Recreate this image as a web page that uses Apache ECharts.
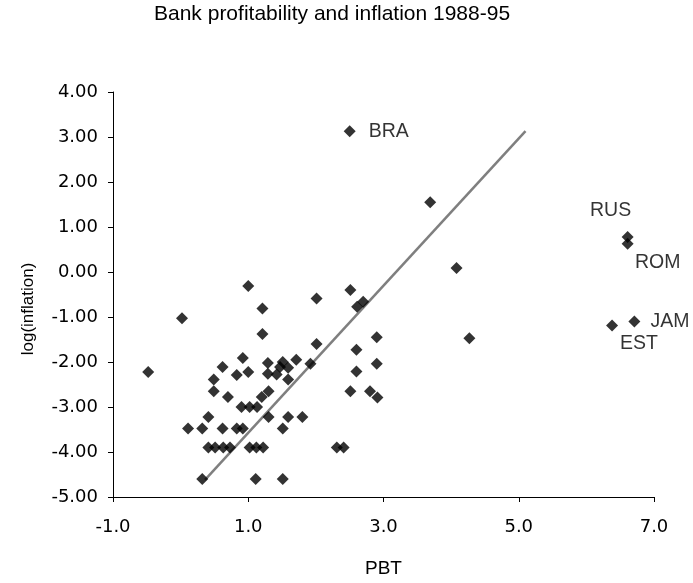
<!DOCTYPE html>
<html><head><meta charset="utf-8">
<script src="https://cdn.jsdelivr.net/npm/echarts@6/dist/echarts.min.js"></script>
<style>html,body{margin:0;padding:0;background:#fff}#c{width:693px;height:583px}</style>
</head><body><div id="c"></div>
<script>
const pbt = [3.69,4.08,1.00,2.51,2.01,2.61,2.70,1.21,0.02,1.21,2.90,4.27,2.01,2.60,-0.48,0.92,1.71,1.92,2.90,0.62,1.29,1.51,1.47,1.59,1.00,2.60,0.83,0.49,1.29,1.42,1.59,0.49,0.70,1.30,1.20,2.51,2.80,2.91,0.90,1.02,1.13,0.41,1.30,1.59,1.80,0.11,0.32,0.62,0.83,0.92,1.51,0.41,0.51,0.63,0.73,1.02,1.12,1.22,2.31,2.41,0.32,1.11,1.51];
const logInflation = [1.55,0.09,-0.31,-0.40,-0.59,-0.77,-0.66,-0.81,-1.03,-1.38,-1.45,-1.47,-1.60,-1.73,-2.22,-1.91,-1.95,-2.04,-2.04,-2.11,-2.02,-2.00,-2.11,-2.13,-2.22,-2.21,-2.29,-2.39,-2.26,-2.28,-2.39,-2.65,-2.78,-2.65,-2.78,-2.65,-2.65,-2.79,-3.00,-3.00,-3.00,-3.22,-3.22,-3.22,-3.22,-3.48,-3.48,-3.48,-3.48,-3.48,-3.48,-3.90,-3.90,-3.90,-3.90,-3.90,-3.90,-3.90,-3.90,-3.90,-4.60,-4.60,-4.60];
const labelNames = ['BRA','RUS','ROM','JAM','EST'];
const labelPbt = [2.50,6.61,6.61,6.71,6.38];
const labelInflation = [3.13,0.78,0.63,-1.10,-1.19];
const trendPbt = [0.36,5.10];
const trendInflation = [-4.62,3.13];
const xTicks = [-1,1,3,5,7];
const yTicks = [-5,-4,-3,-2,-1,0,1,2,3,4];

const WIDE = '"DejaVu Sans", sans-serif';
const ARIAL = '"Liberation Sans", Arial, sans-serif';
// label placement relative to marker: [dx, dy, align]
const labelOffsets = {BRA:[19,0,'left'],RUS:[-17,-26,'center'],ROM:[30,19,'center'],JAM:[16,0,'left'],EST:[27,18,'center']};

const chart = echarts.init(document.getElementById('c'), null, {renderer:'canvas'});
chart.setOption({
  backgroundColor:'#fff',
  animation:false,
  title:{text:'Bank profitability and inflation 1988-95',left:154,top:4,padding:0,
    textStyle:{fontFamily:ARIAL,fontSize:21,fontWeight:'normal',color:'#000'}},
  grid:{left:113,right:39,top:92,bottom:83},
  graphic:[{type:'text',x:28,y:309,rotation:Math.PI/2,
    style:{text:'log(inflation)',font:'17px "Liberation Sans", Arial, sans-serif',fill:'#000',align:'center',verticalAlign:'middle'}}],
  xAxis:{type:'value',min:xTicks[0],max:xTicks[xTicks.length-1],interval:2,
    name:'PBT',nameLocation:'middle',nameGap:62,
    nameTextStyle:{fontFamily:ARIAL,fontSize:19,color:'#000'},
    axisLine:{onZero:false,lineStyle:{color:'#000',width:1}},
    axisTick:{show:true,length:5,lineStyle:{color:'#000'}},
    axisLabel:{fontFamily:WIDE,fontSize:18,color:'#000',margin:21,formatter:v=>v.toFixed(1)},
    splitLine:{show:false}},
  yAxis:{type:'value',min:yTicks[0],max:yTicks[yTicks.length-1],interval:1,
    axisLine:{show:true,onZero:false,lineStyle:{color:'#000',width:1}},
    axisTick:{show:true,length:5,lineStyle:{color:'#000'}},
    axisLabel:{fontFamily:WIDE,fontSize:18,color:'#000',margin:15,formatter:v=>v.toFixed(2)},
    splitLine:{show:false}},
  series:[
    {type:'line',data:trendPbt.map((x,i)=>[x,trendInflation[i]]),symbol:'none',
     lineStyle:{color:'#7f7f7f',width:2.5},z:1},
    {type:'scatter',data:pbt.map((x,i)=>[x,logInflation[i]]),symbol:'diamond',symbolSize:12,
     itemStyle:{color:'#000'},z:2},
    {type:'scatter',symbol:'diamond',symbolSize:12,itemStyle:{color:'#000'},z:2,
     data:labelNames.map((n,i)=>({name:n,value:[labelPbt[i],labelInflation[i]],
       label:{show:true,formatter:'{b}',position:'inside',offset:[labelOffsets[n][0],labelOffsets[n][1]],
         align:labelOffsets[n][2],verticalAlign:'middle',fontFamily:ARIAL,fontSize:19.5,color:'#000'}}))}
  ]
});
</script></body></html>
